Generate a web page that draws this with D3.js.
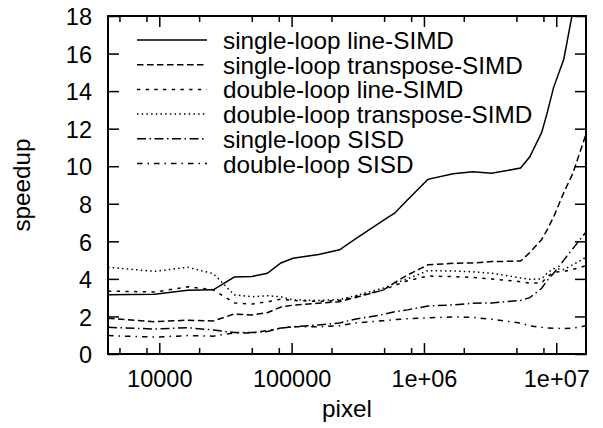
<!DOCTYPE html>
<html>
<head>
<meta charset="utf-8">
<script src="https://cdn.jsdelivr.net/npm/d3@7"></script>
<style>
  html, body { margin: 0; padding: 0; background: #fff; }
  svg text { font-family: 'Liberation Sans', Arial, Helvetica, sans-serif; fill: #000; }
</style>
</head>
<body>
<div id="viz"></div>
<script>
// pixel counts (x) shared by every series
const pixels = [4096, 9216, 16384, 25600, 36864, 50176, 65536, 82944, 102400,
  160000, 230400, 300000, 490000, 600000, 750000, 1070000, 1660000, 2340000,
  3240000, 5370000, 6310000, 7760000, 8510000, 9550000, 11400000, 13300000, 16777216];

const seriesNames = [
  'single-loop line-SIMD',
  'single-loop transpose-SIMD',
  'double-loop line-SIMD',
  'double-loop transpose-SIMD',
  'single-loop SISD',
  'double-loop SISD'
];

const singleLine = [3.15, 3.18, 3.4, 3.42, 4.1, 4.13, 4.3, 4.85, 5.1,
  5.3, 5.55, 6.1, 7.1, 7.5, 8.2, 9.3, 9.6, 9.7,
  9.62, 9.9, 10.5, 11.8, 12.8, 14.2, 15.7, 18.2, 24];
const singleTranspose = [1.9, 1.72, 1.8, 1.76, 2.13, 2.08, 2.2, 2.5, 2.6,
  2.7, 2.78, 3.0, 3.4, 3.8, 4.2, 4.75, 4.83, 4.85,
  4.92, 4.95, 5.4, 6.1, 6.6, 7.3, 8.6, 9.6, 11.7];
const doubleLine = [3.35, 3.3, 3.58, 3.42, 2.72, 2.66, 2.78, 2.92, 2.85,
  2.8, 2.85, 3.05, 3.4, 3.65, 3.9, 4.15, 4.12, 4.08,
  4.0, 3.85, 3.78, 3.78, 4.1, 4.35, 4.4, 4.5, 4.7];
const doubleTranspose = [4.62, 4.4, 4.62, 4.28, 3.15, 3.05, 3.1, 3.05, 2.88,
  2.85, 2.9, 3.1, 3.5, 3.75, 4.0, 4.44, 4.42, 4.38,
  4.3, 4.05, 3.98, 4.0, 4.3, 4.55, 4.5, 4.75, 5.15];
const singleSISD = [1.42, 1.33, 1.4, 1.28, 1.14, 1.14, 1.2, 1.38, 1.45,
  1.55, 1.65, 1.85, 2.1, 2.25, 2.35, 2.55, 2.62, 2.7,
  2.72, 2.85, 3.0, 3.5, 3.9, 4.3, 5.0, 5.6, 6.5];
const doubleSISD = [0.98, 0.9, 0.98, 0.95, 1.12, 1.12, 1.25, 1.38, 1.45,
  1.45, 1.5, 1.65, 1.77, 1.83, 1.88, 1.93, 1.97, 1.95,
  1.85, 1.65, 1.5, 1.42, 1.38, 1.37, 1.36, 1.38, 1.5];

const xMajor = [1e4, 1e5, 1e6, 1e7];
const xLabels = ['10000', '100000', '1e+06', '1e+07'];
const xMinor = [5000, 8000, 20000, 50000, 80000, 200000, 500000, 800000,
  2000000, 5000000, 8000000];
const yTicks = [0, 2, 4, 6, 8, 10, 12, 14, 16, 18];

const allSeries = [singleLine, singleTranspose, doubleLine, doubleTranspose, singleSISD, doubleSISD];
const dashes = [null, '6.5,3.5', '3.3,5.4', '1.5,3.2', '9,3.5,1.5,3.5', '5.5,5,1.5,5'];

const M = { top: 16, right: 17, bottom: 74, left: 108 };
const W = 603 - M.left - M.right;
const H = 428 - M.top - M.bottom;
const FS = 23.5;   // tick labels
const FL = 24.3;   // legend and titles

const svg = d3.select('#viz')
  .append('svg')
    .attr('width', 603)
    .attr('height', 428)
  .append('g')
    .attr('transform', `translate(${M.left},${M.top})`);

const x = d3.scaleLog().domain([4096, 16777216]).range([0, W]);
const y = d3.scaleLinear().domain([0, 18]).range([H, 0]);

svg.append('clipPath').attr('id', 'clip')
  .append('rect').attr('width', W).attr('height', H);

// bottom axis with labels, ticks pointing inward
const bottom = svg.append('g')
  .attr('transform', `translate(0,${H})`)
  .call(d3.axisBottom(x).tickValues(xMajor)
    .tickFormat((d, i) => xLabels[i])
    .tickSizeInner(-11).tickSizeOuter(0).tickPadding(16.5));
bottom.select('.domain').remove();
bottom.selectAll('text').attr('font-size', FS).attr('font-family', null);
bottom.selectAll('line').attr('stroke-width', 1.5);

svg.append('g')
  .attr('transform', `translate(0,${H})`)
  .call(d3.axisBottom(x).tickValues(xMinor).tickFormat('')
    .tickSizeInner(-6).tickSizeOuter(0))
  .call(g => g.select('.domain').remove())
  .selectAll('line').attr('stroke-width', 1.5);

// top mirror ticks
svg.append('g')
  .call(d3.axisTop(x).tickValues(xMajor).tickFormat('')
    .tickSizeInner(-11).tickSizeOuter(0))
  .call(g => g.select('.domain').remove())
  .selectAll('line').attr('stroke-width', 1.5);
svg.append('g')
  .call(d3.axisTop(x).tickValues(xMinor).tickFormat('')
    .tickSizeInner(-6).tickSizeOuter(0))
  .call(g => g.select('.domain').remove())
  .selectAll('line').attr('stroke-width', 1.5);

// left axis
const left = svg.append('g')
  .call(d3.axisLeft(y).tickValues(yTicks)
    .tickSizeInner(-11).tickSizeOuter(0).tickPadding(16));
left.select('.domain').remove();
left.selectAll('text').attr('font-size', FS).attr('font-family', null).attr('dy', '0.37em');
left.selectAll('line').attr('stroke-width', 1.5);

// right mirror ticks
svg.append('g')
  .attr('transform', `translate(${W},0)`)
  .call(d3.axisRight(y).tickValues(yTicks).tickFormat('')
    .tickSizeInner(-11).tickSizeOuter(0))
  .call(g => g.select('.domain').remove())
  .selectAll('line').attr('stroke-width', 1.5);

const lineGen = d3.line()
  .x((d, i) => x(pixels[i]))
  .y(d => y(d));

allSeries.forEach((s, i) => {
  svg.append('path')
    .datum(s)
    .attr('clip-path', 'url(#clip)')
    .attr('fill', 'none')
    .attr('stroke', '#000')
    .attr('stroke-width', 1.5)
    .attr('stroke-dasharray', dashes[i])
    .attr('d', lineGen);
});

// frame
svg.append('rect')
  .attr('width', W).attr('height', H)
  .attr('fill', 'none')
  .attr('stroke', '#000')
  .attr('stroke-width', 2);

// legend
const legend = svg.append('g').attr('transform', `translate(${137 - M.left},${40 - M.top})`);
seriesNames.forEach((name, i) => {
  const row = legend.append('g').attr('transform', `translate(0,${i * 24.7})`);
  row.append('line')
    .attr('x1', 0).attr('x2', 70)
    .attr('stroke', '#000')
    .attr('stroke-width', 1.5)
    .attr('stroke-dasharray', dashes[i]);
  row.append('text')
    .attr('x', 86).attr('y', 9)
    .attr('font-size', FL)
    .text(name);
});

// axis titles
svg.append('text')
  .attr('x', W / 2).attr('y', H + 62.5)
  .attr('text-anchor', 'middle')
  .attr('font-size', FL)
  .text('pixel');
svg.append('text')
  .attr('transform', `translate(${30 - M.left},${H / 2}) rotate(-90)`)
  .attr('text-anchor', 'middle')
  .attr('font-size', FL)
  .text('speedup');
</script>
</body>
</html>
